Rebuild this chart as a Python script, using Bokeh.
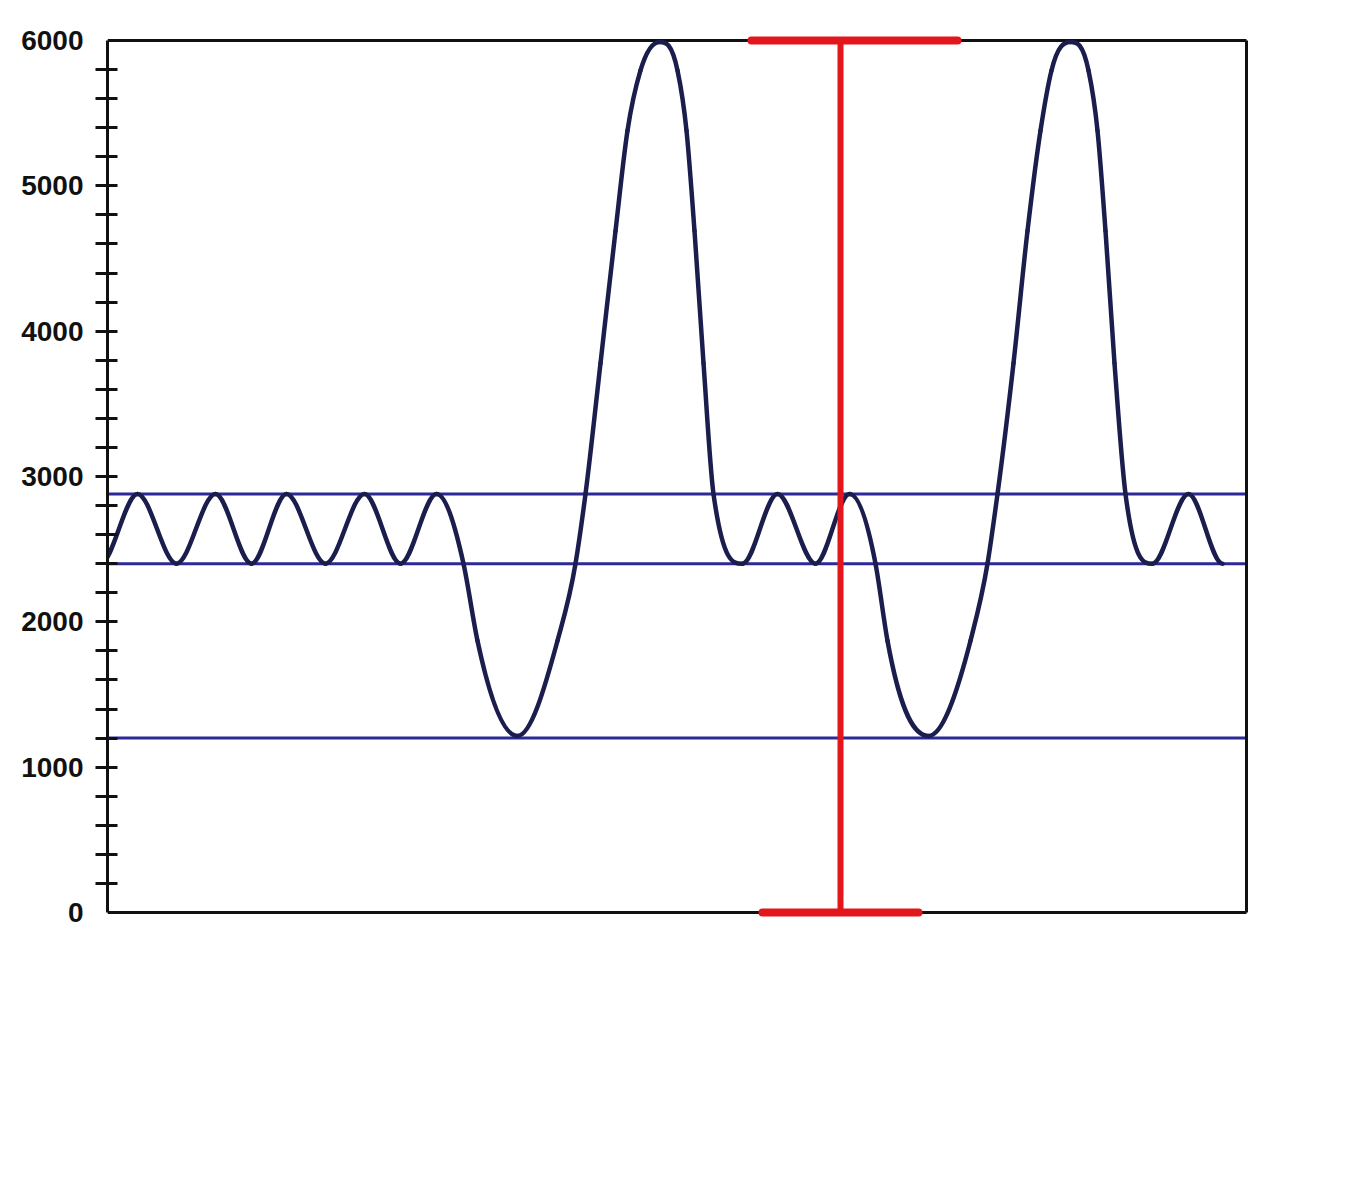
import numpy as np
from bokeh.plotting import figure
from bokeh.models import Range1d, FixedTicker, ColumnDataSource
from bokeh.embed import file_html
from bokeh.resources import INLINE

# ---------------- data ----------------
# x is in arbitrary horizontal units (0 = left axis, 1139 = right border)
x_limits = [0, 1139]

# y axis ticks
y_ticks = [0, 1000, 2000, 3000, 4000, 5000, 6000]
y_minor = [v for v in range(200, 6000, 200)]

# reference (horizontal) levels
levels = [2880, 2400, 1200]

# the wave: points (extrema and a few points on the flanks)
curve_x = [-7, 30, 69, 108, 144, 179, 218, 257, 293, 329,
           356, 370, 410, 450, 468, 478, 493, 508, 520, 533, 552,
           570, 579, 587, 596, 606, 635, 670, 708, 742,
           768, 780, 821, 863, 880, 890, 906, 920, 933, 944, 963,
           981, 990, 998, 1007, 1018, 1045, 1081, 1115]
curve_y = [2400, 2880, 2400, 2880, 2400, 2880, 2400, 2880, 2400, 2880,
           2400, 1870, 1215, 1870, 2400, 2880, 3780, 4690, 5380, 5794, 5990,
           5794, 5380, 4690, 3780, 2880, 2400, 2880, 2400, 2880,
           2400, 1870, 1215, 1870, 2400, 2880, 3780, 4690, 5380, 5794, 5990,
           5794, 5380, 4690, 3780, 2880, 2400, 2880, 2400]

# red measuring bar
bar_x = [733]
bar_bottom = [0]
bar_top = [6000]
cap_top_x0 = [644]
cap_top_x1 = [850]
cap_bot_x0 = [655]
cap_bot_x1 = [811]

# ---------------- smooth rendering of the curve (bezier through the points) ----------------
cx = np.array(curve_x, dtype=float)
cy = np.array(curve_y, dtype=float)
h = np.diff(cx)
d = np.diff(cy) / h
n = len(cx)
m = np.zeros(n)
for k in range(1, n - 1):
    if d[k - 1] * d[k] <= 0:
        m[k] = 0.0
    else:
        m[k] = (h[k] * d[k - 1] + h[k - 1] * d[k]) / (h[k - 1] + h[k])
# Fritsch-Carlson limiter (no overshoot)
for k in range(n - 1):
    if d[k] == 0:
        m[k] = m[k + 1] = 0.0
        continue
    a = m[k] / d[k]
    b = m[k + 1] / d[k]
    s = a * a + b * b
    if s > 9:
        t = 3.0 / np.sqrt(s)
        m[k] = t * a * d[k]
        m[k + 1] = t * b * d[k]

bez = ColumnDataSource(dict(
    x0=cx[:-1], y0=cy[:-1], x1=cx[1:], y1=cy[1:],
    cx0=cx[:-1] + h / 3, cy0=cy[:-1] + m[:-1] * h / 3,
    cx1=cx[1:] - h / 3, cy1=cy[1:] - m[1:] * h / 3,
))

# ---------------- figure ----------------
px_per_unit = 872 / 6000.0
ypad = 10 / px_per_unit

p = figure(width=1335, height=1180, output_backend="svg", toolbar_location=None,
           x_range=Range1d(0, 1159), y_range=Range1d(-ypad, 6000 + ypad),
           x_axis_location=None, tools="")
p.min_border_left = 107
p.min_border_right = 69
p.min_border_top = 30
p.min_border_bottom = 258
p.outline_line_color = None
p.background_fill_color = "white"
p.border_fill_color = "white"
p.grid.visible = False

ax = p.yaxis[0]
ax.ticker = FixedTicker(ticks=y_ticks, minor_ticks=y_minor)
ax.bounds = (0, 6000)
ax.axis_line_width = 3
ax.axis_line_color = "#111111"
ax.major_tick_in = 0
ax.major_tick_out = 0
ax.minor_tick_in = 10
ax.minor_tick_out = 12
ax.minor_tick_line_width = 3
ax.minor_tick_line_color = "#111111"
ax.major_label_standoff = 12
ax.major_label_text_font = "Liberation Sans"
ax.major_label_text_font_style = "bold"
ax.major_label_text_font_size = "28px"
ax.major_label_text_color = "#111111"

# horizontal levels
p.segment(x0=[x_limits[0]] * len(levels), x1=[x_limits[1]] * len(levels),
          y0=levels, y1=levels, line_color="#2d2a95", line_width=3)

# frame border (top, right, bottom)
p.segment(x0=[x_limits[0], x_limits[1], x_limits[0]],
          x1=[x_limits[1], x_limits[1], x_limits[1]],
          y0=[y_ticks[-1], y_ticks[0], y_ticks[0]],
          y1=[y_ticks[-1], y_ticks[-1], y_ticks[0]],
          line_color="#111111", line_width=3)

# the wave
p.bezier(x0="x0", y0="y0", x1="x1", y1="y1", cx0="cx0", cy0="cy0",
         cx1="cx1", cy1="cy1", source=bez, line_color="#1b1e4c",
         line_width=4.5, line_cap="round")

# red measuring bar
p.segment(x0=bar_x, x1=bar_x, y0=bar_bottom, y1=bar_top,
          line_color="#e3161b", line_width=6)
p.segment(x0=cap_top_x0, x1=cap_top_x1, y0=bar_top, y1=bar_top,
          line_color="#e3161b", line_width=8, line_cap="round")
p.segment(x0=cap_bot_x0, x1=cap_bot_x1, y0=bar_bottom, y1=bar_bottom,
          line_color="#e3161b", line_width=8, line_cap="round")

open("out.html", "w").write(file_html(p, INLINE))
